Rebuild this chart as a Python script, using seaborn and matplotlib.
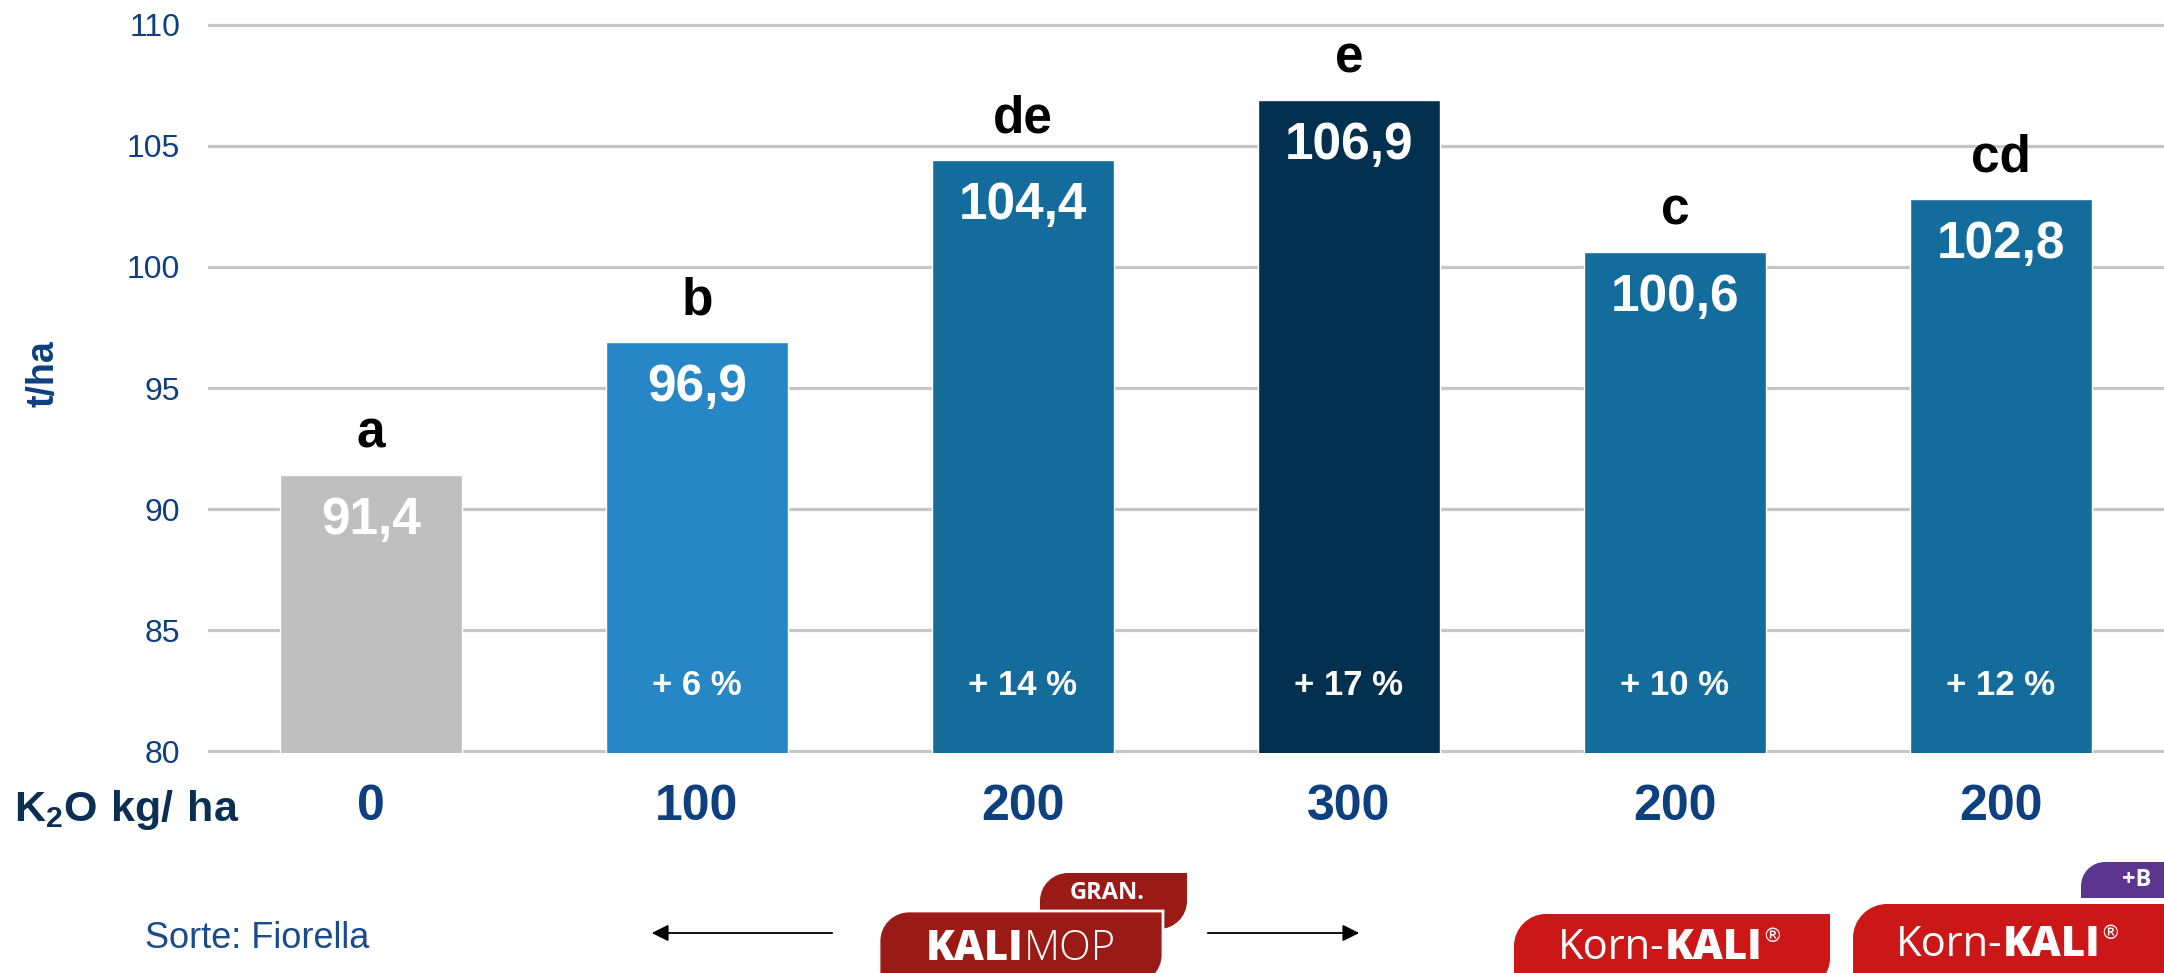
import matplotlib
matplotlib.use("Agg")
import matplotlib.pyplot as plt
from matplotlib import font_manager
from matplotlib.path import Path
from matplotlib.patches import PathPatch, FancyArrowPatch
import seaborn as sns
import pandas as pd

# data
treatments = ["Kontrolle", "KALIMOP 100", "KALIMOP 200", "KALIMOP 300", "Korn-KALI 200", "Korn-KALI+B 200"]
k2o_labels = ["0", "100", "200", "300", "200", "200"]
yields = [91.4, 96.9, 104.4, 106.9, 100.6, 102.8]
value_labels = ["91,4", "96,9", "104,4", "106,9", "100,6", "102,8"]
letters = ["a", "b", "de", "e", "c", "cd"]
increase_labels = ["", "+ 6 %", "+ 14 %", "+ 17 %", "+ 10 %", "+ 12 %"]
bar_colors = ["#BFBFBF", "#2787C6", "#146C9C", "#03304F", "#146C9C", "#146C9C"]

NAVY = "#0E3F7E"
DARK = "#0B2F52"

sns.set_style("white")
installed = {f.name for f in font_manager.fontManager.ttflist}
NARROW = "Liberation Sans Narrow" if "Liberation Sans Narrow" in installed else "Liberation Sans"
plt.rcParams["font.family"] = ["Liberation Sans", "DejaVu Sans"]
plt.rcParams["mathtext.fontset"] = "custom"
plt.rcParams["mathtext.bf"] = NARROW + ":bold"
plt.rcParams["mathtext.rm"] = NARROW + ":bold"

df = pd.DataFrame({"treatment": treatments, "yield": yields})

fig = plt.figure(figsize=(21.64, 9.73), dpi=100)
ax = fig.add_axes([208 / 2164, 1 - 753 / 973, 1 - 208 / 2164, 730 / 973])

sns.barplot(data=df, x="treatment", y="yield", hue="treatment",
            palette=dict(zip(treatments, bar_colors)), width=0.56,
            legend=False, saturation=1, ax=ax)

ax.set_ylim(79.93, 110.07)
ax.set_xlim(-0.5, 5.5)
ax.set_yticks([80, 85, 90, 95, 100, 105, 110])
ax.yaxis.grid(True, color="#C6C6C6", lw=2.3)
ax.set_axisbelow(True)
for s in ax.spines.values():
    s.set_visible(False)
ax.tick_params(axis="both", length=0)
ax.tick_params(axis="y", pad=20, labelsize=23, labelcolor=NAVY)
ax.set_xticks(range(len(treatments)))
ax.set_xticklabels(k2o_labels, fontsize=36, fontweight="bold", color=NAVY, family=NARROW)
ax.tick_params(axis="x", pad=22)
ax.set_xlabel("")
ax.set_ylabel("t/ha", fontsize=27, fontweight="bold", color=NAVY, family=NARROW)
ax.yaxis.set_label_coords(-0.075, 0.52)

for i, (v, vl, let, inc) in enumerate(zip(yields, value_labels, letters, increase_labels)):
    ax.annotate(vl, (i, v), xytext=(0, -15), textcoords="offset points",
                ha="center", va="top", color="white", fontsize=37,
                fontweight="bold", family=NARROW)
    ax.annotate(let, (i, v), xytext=(0, 20), textcoords="offset points",
                ha="center", va="baseline", color="black", fontsize=37,
                fontweight="bold", family=NARROW)
    if inc:
        ax.text(i, 82.7, inc, ha="center", va="center", color="white",
                fontsize=25, fontweight="bold")

# overlay in image pixel coordinates for the footer
ov = fig.add_axes([0, 0, 1, 1], zorder=5)
ov.set_xlim(0, 2164)
ov.set_ylim(973, 0)
ov.axis("off")
ov.patch.set_alpha(0)

fig.text(14 / 2164, 1 - 810 / 973, r"$\mathbf{K_2O\ kg/\ ha}$", fontsize=31,
         color=DARK, va="center", ha="left")
ov.text(145, 938, "Sorte: Fiorella", fontsize=26, color="#1B4B8A", va="center", ha="left")


def leaf(x0, y0, x1, y1, r, color, ec="none", lw=0):
    k = 0.55
    verts = [(x0, y1), (x0, y0 + r), (x0, y0 + r * (1 - k)), (x0 + r * (1 - k), y0), (x0 + r, y0),
             (x1, y0), (x1, y1 - r), (x1, y1 - r * (1 - k)), (x1 - r * (1 - k), y1), (x1 - r, y1),
             (x0, y1), (x0, y1)]
    codes = [Path.MOVETO, Path.LINETO, Path.CURVE4, Path.CURVE4, Path.CURVE4,
             Path.LINETO, Path.LINETO, Path.CURVE4, Path.CURVE4, Path.CURVE4,
             Path.LINETO, Path.CLOSEPOLY]
    ov.add_patch(PathPatch(Path(verts, codes), facecolor=color, edgecolor=ec, lw=lw,
                           clip_on=False))


def rich(xc, yc, parts):
    # parts: (text, fontsize, weight, family, dy)
    texts = []
    for s, fs, wt, fam, dy in parts:
        texts.append((ov.text(0, yc + dy, s, fontsize=fs, fontweight=wt, family=fam,
                              color="white", va="baseline", ha="left"), dy))
    r = fig.canvas.get_renderer()
    widths = [t.get_window_extent(r).width for t, _ in texts]
    x = xc - sum(widths) / 2
    for (t, dy), w in zip(texts, widths):
        t.set_x(x)
        x += w


RED_DARK = "#9A1B16"
RED = "#CC1719"
PURPLE = "#5B358E"

# KALIMOP logo
leaf(1040, 873, 1187, 929, 28, RED_DARK)
leaf(879, 911, 1163, 985, 30, RED_DARK, ec="white", lw=2)
ov.text(1107, 893, "GRAN.", fontsize=17, fontweight="bold", color="white",
        ha="center", va="center", family="Open Sans")
rich(1021, 960, [("KALI", 30, "heavy", "Open Sans", 0), ("MOP", 30, "light", "Open Sans", 0)])

# arrows
ov.add_patch(FancyArrowPatch((835, 933), (649, 933), arrowstyle="-|>,head_length=10,head_width=5",
                             color="black", lw=1.3, clip_on=False))
ov.add_patch(FancyArrowPatch((1205, 933), (1362, 933), arrowstyle="-|>,head_length=10,head_width=5",
                             color="black", lw=1.3, clip_on=False))

# Korn-KALI logos
leaf(1514, 914, 1830, 990, 32, RED)
rich(1670, 959, [("Korn-", 30, "normal", "Open Sans", 0), ("KALI", 30, "heavy", "Open Sans", 0),
                 ("®", 14, "normal", "DejaVu Sans", -17)])
leaf(2081, 862, 2190, 898, 24, PURPLE)
ov.text(2137, 880, "+B", fontsize=17, fontweight="bold", color="white",
        ha="center", va="center", family="Open Sans")
leaf(1853, 904, 2190, 990, 34, RED)
rich(2008, 956, [("Korn-", 30, "normal", "Open Sans", 0), ("KALI", 30, "heavy", "Open Sans", 0),
                 ("®", 14, "normal", "DejaVu Sans", -17)])

fig.savefig("out.png", dpi=100)
